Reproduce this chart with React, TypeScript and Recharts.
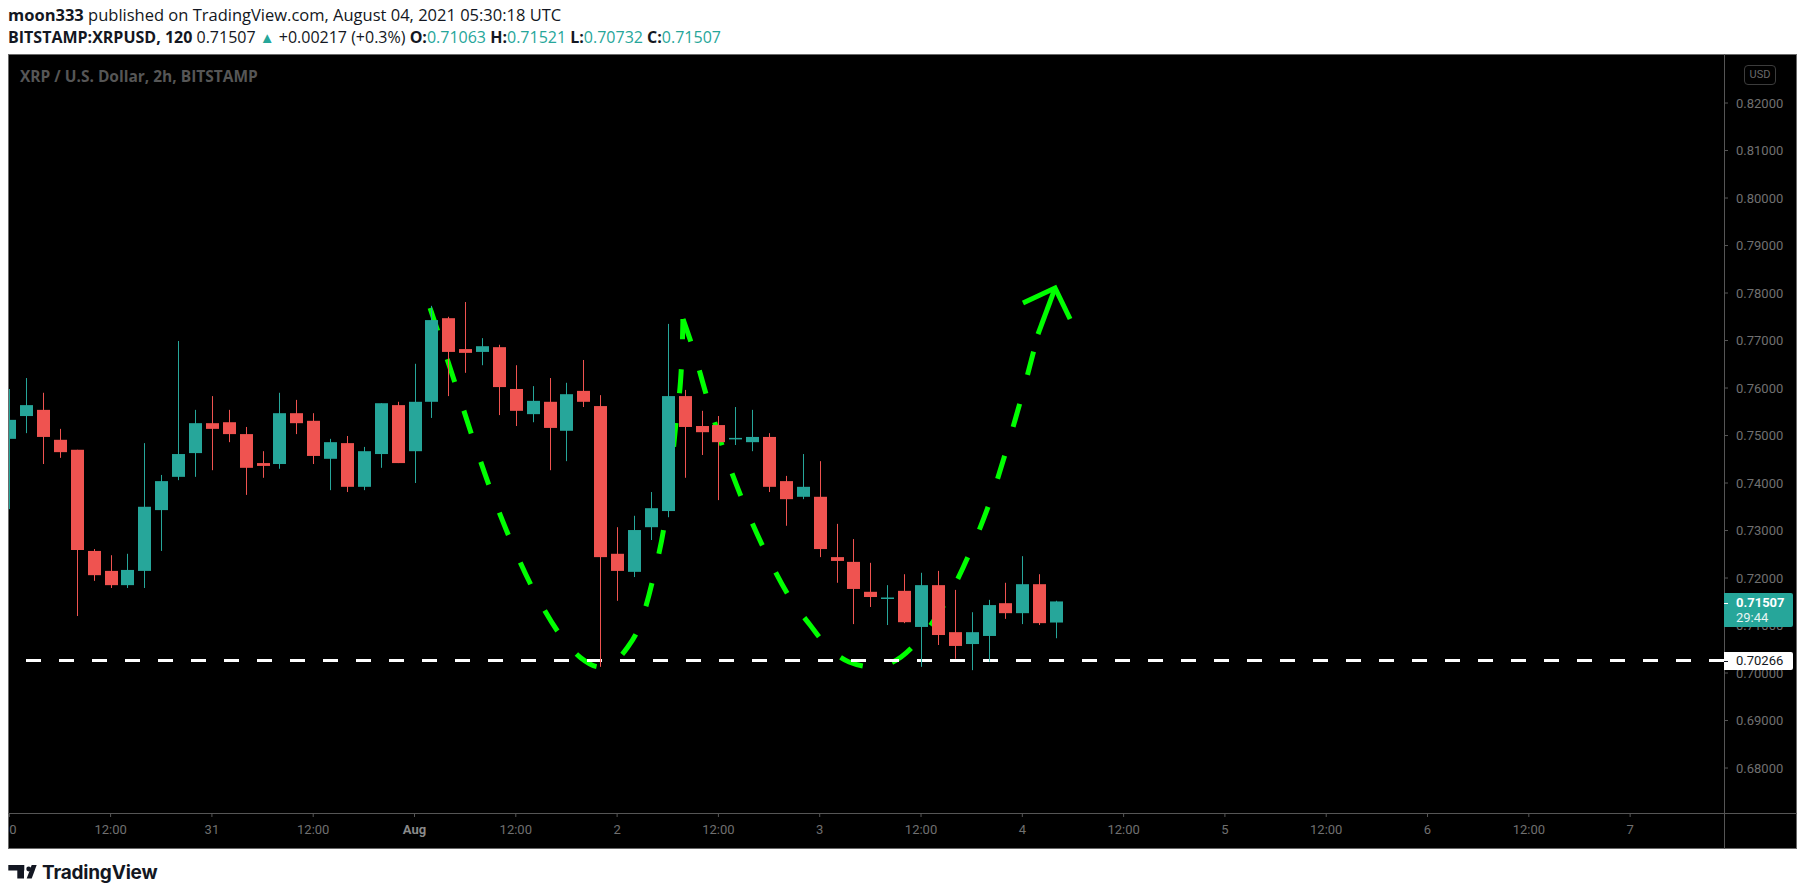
import React from 'react';
import { ComposedChart, Bar, Line, XAxis, YAxis, ReferenceLine } from 'recharts';

// ---- candle data (2h bars, Jul 30 00:00 -> Aug 4 04:00) ----
const opens = [
  0.7493, 0.7541, 0.7554, 0.7491, 0.7470, 0.7257, 0.7215, 0.7185, 0.7215, 0.7343,
  0.7413, 0.7463, 0.7526, 0.7528, 0.7503, 0.7442, 0.7440, 0.7547, 0.7531, 0.7451,
  0.7484, 0.7392, 0.7461, 0.7564, 0.7467, 0.7571, 0.7747, 0.7682, 0.7676, 0.7686,
  0.7598, 0.7545, 0.7571, 0.7510, 0.7594, 0.7562, 0.7251, 0.7213, 0.7307, 0.7341,
  0.7583, 0.7520, 0.7522, 0.7493, 0.7486, 0.7497, 0.7404, 0.7371, 0.7371, 0.7244,
  0.7234, 0.7171, 0.7157, 0.7173, 0.7097, 0.7185, 0.7086, 0.7061, 0.7078, 0.7147,
  0.7126, 0.7187, 0.71063,
];
const highs = [
  0.7598, 0.7621, 0.7590, 0.7514, 0.7470, 0.7261, 0.7248, 0.7251, 0.7484, 0.7417,
  0.7699, 0.7554, 0.7583, 0.7554, 0.7518, 0.7467, 0.7590, 0.7575, 0.7547, 0.7493,
  0.7499, 0.7476, 0.7568, 0.7571, 0.7651, 0.7773, 0.7750, 0.7781, 0.7705, 0.7691,
  0.7648, 0.7604, 0.7621, 0.7611, 0.7659, 0.7585, 0.7307, 0.7331, 0.7381, 0.7735,
  0.7596, 0.7552, 0.7541, 0.7560, 0.7554, 0.7505, 0.7415, 0.7461, 0.7446, 0.7314,
  0.7282, 0.7232, 0.7185, 0.7208, 0.7211, 0.7215, 0.7175, 0.7128, 0.7154, 0.7190,
  0.7246, 0.7208, 0.71521,
];
const lows = [
  0.7345, 0.7505, 0.7440, 0.7453, 0.7120, 0.7194, 0.7179, 0.7179, 0.7179, 0.7257,
  0.7406, 0.7413, 0.7427, 0.7486, 0.7375, 0.7411, 0.7430, 0.7503, 0.7440, 0.7385,
  0.7381, 0.7385, 0.7432, 0.7442, 0.7400, 0.7537, 0.7583, 0.7632, 0.7648, 0.7543,
  0.7520, 0.7528, 0.7427, 0.7446, 0.7560, 0.7013, 0.7152, 0.7202, 0.7280, 0.7328,
  0.7411, 0.7459, 0.7364, 0.7480, 0.7467, 0.7381, 0.7310, 0.7366, 0.7244, 0.7190,
  0.7103, 0.7139, 0.7101, 0.7105, 0.7013, 0.7059, 0.7030, 0.7006, 0.7024, 0.7114,
  0.7103, 0.7101, 0.70732,
];
const closes = [
  0.7533, 0.7564, 0.7497, 0.7465, 0.7259, 0.7206, 0.7185, 0.7217, 0.7350, 0.7404,
  0.7461, 0.7526, 0.7514, 0.7503, 0.7432, 0.7436, 0.7547, 0.7526, 0.7457, 0.7486,
  0.7392, 0.7467, 0.7568, 0.7442, 0.7571, 0.7743, 0.7676, 0.7674, 0.7688, 0.7602,
  0.7552, 0.7573, 0.7516, 0.7587, 0.7571, 0.7244, 0.7215, 0.7301, 0.7347, 0.7583,
  0.7518, 0.7507, 0.7486, 0.7495, 0.7497, 0.7392, 0.7366, 0.7392, 0.7261, 0.7236,
  0.7177, 0.7160, 0.7159, 0.7107, 0.7185, 0.7080, 0.7057, 0.7086, 0.7143, 0.7126,
  0.7187, 0.7105, 0.71507,
];

// ---- axis ticks ----
const xTickValues = [0, 6, 12, 18, 24, 30, 36, 42, 48, 54, 60, 66, 72, 78, 84, 90, 96];
const xTickLabels = ['30', '12:00', '31', '12:00', 'Aug', '12:00', '2', '12:00', '3', '12:00', '4', '12:00', '5', '12:00', '6', '12:00', '7'];
const yTicks = [0.68, 0.69, 0.70, 0.71, 0.72, 0.73, 0.74, 0.75, 0.76, 0.77, 0.78, 0.79, 0.80, 0.81, 0.82];

// ---- hand drawn curves (bar index, price) ----
const curve1Bars = [24.92, 26.4, 27.41, 28.47, 29.66, 31.02, 32.68, 33.86, 34.99, 36.59, 37.3, 38.19, 38.84, 39.49, 39.84, 39.9];
const curve1Prices = [0.77684, 0.76105, 0.74989, 0.73895, 0.72821, 0.71768, 0.70779, 0.70316, 0.70126, 0.70526, 0.70968, 0.72084, 0.73221, 0.75284, 0.76674, 0.77453];
const curve2Bars = [39.9, 40.43, 41.32, 42.33, 43.52, 44.82, 46.36, 47.43, 48.26, 49.74, 51.2, 52.82, 53.88, 55.72, 57.08, 58.26, 59.21, 60.1, 60.93];
const curve2Prices = [0.77453, 0.76905, 0.75811, 0.74674, 0.7356, 0.72526, 0.71516, 0.71011, 0.70632, 0.70232, 0.70126, 0.70337, 0.70695, 0.71663, 0.72695, 0.73789, 0.74884, 0.76, 0.77137];
const shaftBars = [60.93, 61.94];
const shaftPrices = [0.77137, 0.78105];
const headBars = [60.04, 61.94, 62.83];
const headPrices = [0.77789, 0.78105, 0.77453];

const supportLevel = 0.70266;
const lastPrice = '0.71507';
const countdown = '29:44';

const UP = '#26a69a';
const DOWN = '#ef5350';
const GREEN = '#00ff00';
const AXIS_TEXT = '#707070';
const LINE_GRAY = '#555555';
const BODY_W = 13;

const candles = opens.map((o, i) => ({ t: i, o, h: highs[i], l: lows[i], c: closes[i], range: [lows[i], highs[i]] }));
const toPts = (ts: number[], vs: number[]) => ts.map((t, i) => ({ t, v: vs[i] }));

const Candle = (props: any) => {
  const { x, y, width, height, payload } = props;
  if (!payload) return null;
  const { o, h, l, c } = payload;
  const color = c >= o ? UP : DOWN;
  const k = height / (h - l);
  const top = y + (h - Math.max(o, c)) * k;
  const bot = y + (h - Math.min(o, c)) * k;
  const cx = Math.round(x + (width || 0) / 2) + 0.5;
  return (
    <g>
      <line x1={cx} x2={cx} y1={y} y2={y + height} stroke={color} strokeWidth={1} />
      <rect x={cx - BODY_W / 2} y={top} width={BODY_W} height={Math.max(1.5, bot - top)} fill={color} />
    </g>
  );
};

const XTick = (props: any) => {
  const { x, y, payload } = props;
  const idx = xTickValues.indexOf(payload.value);
  const label = idx >= 0 ? xTickLabels[idx] : '';
  const bold = label === 'Aug';
  return (
    <text x={x} y={y} dy="0.71em" textAnchor="middle" fill={bold ? '#8a8a8a' : AXIS_TEXT}
      fontSize={13} fontFamily="Roboto" fontWeight={bold ? 700 : 400}>{label}</text>
  );
};

const hLine = (left: number, top: number, width: number, color: string) => (
  <div style={{ position: 'absolute', left, top, width, height: 1, background: color }} />
);
const vLine = (left: number, top: number, height: number, color: string) => (
  <div style={{ position: 'absolute', left, top, width: 1, height, background: color }} />
);

export default function App() {
  const teal = UP;
  const lineZ: any = { zIndex: 350 };
  const barZ: any = { zIndex: 700 };
  return (
    <div style={{ position: 'relative', width: 1789, height: 887, fontFamily: '"Open Sans", sans-serif', color: '#131722' }}>
      <div style={{ position: 'absolute', left: 0, top: -2, lineHeight: '18px', fontSize: 16.5, whiteSpace: 'nowrap' }}>
        <span style={{ fontWeight: 700 }}>moon333</span> published on TradingView.com, August 04, 2021 05:30:18 UTC
      </div>
      <div style={{ position: 'absolute', left: 0, top: 20, lineHeight: '18px', fontSize: 16, whiteSpace: 'nowrap' }}>
        <span style={{ fontWeight: 700 }}>BITSTAMP:XRPUSD, 120</span> 0.71507 <span style={{ color: teal, fontSize: 15 }}>▲</span> +0.00217 (+0.3%){' '}
        <span style={{ fontWeight: 700 }}>O:</span><span style={{ color: teal }}>0.71063</span>{' '}
        <span style={{ fontWeight: 700 }}>H:</span><span style={{ color: teal }}>0.71521</span>{' '}
        <span style={{ fontWeight: 700 }}>L:</span><span style={{ color: teal }}>0.70732</span>{' '}
        <span style={{ fontWeight: 700 }}>C:</span><span style={{ color: teal }}>0.71507</span>
      </div>

      <div style={{ position: 'absolute', left: 0, top: 46, width: 1789, height: 795, background: '#000' }}>
        <ComposedChart width={1789} height={795} data={candles} margin={{ top: 1, right: 1, bottom: 1, left: 1 }}>
          <XAxis dataKey="t" type="number" domain={[-0.018, 101.56]} allowDataOverflow ticks={xTickValues}
            interval={0} tick={<XTick />} tickLine={{ stroke: LINE_GRAY }} axisLine={false}
            tickSize={4} tickMargin={8} height={35} />
          <YAxis orientation="right" type="number" domain={[0.67053, 0.83011]} allowDataOverflow ticks={yTicks}
            interval={0} tickFormatter={(v: number) => v.toFixed(5)}
            tick={{ fill: AXIS_TEXT, fontSize: 13, fontFamily: 'Roboto' }} tickLine={{ stroke: LINE_GRAY }}
            axisLine={false} tickSize={4} tickMargin={8} width={72} />
          <ReferenceLine y={supportLevel} stroke="#ffffff" strokeWidth={3} strokeDasharray="15 18" />
          <Line {...lineZ} data={toPts(curve1Bars, curve1Prices)} dataKey="v" type="monotone" stroke={GREEN} strokeWidth={5}
            strokeDasharray="24 30" dot={false} activeDot={false} isAnimationActive={false} />
          <Line {...lineZ} data={toPts(curve2Bars, curve2Prices)} dataKey="v" type="monotone" stroke={GREEN} strokeWidth={5}
            strokeDasharray="24 30" dot={false} activeDot={false} isAnimationActive={false} />
          <Line {...lineZ} data={toPts(shaftBars, shaftPrices)} dataKey="v" type="linear" stroke={GREEN} strokeWidth={5}
            dot={false} activeDot={false} isAnimationActive={false} />
          <Line {...lineZ} data={toPts(headBars, headPrices)} dataKey="v" type="linear" stroke={GREEN} strokeWidth={5}
            strokeLinejoin="miter" dot={false} activeDot={false} isAnimationActive={false} />
          <Bar {...barZ} dataKey="range" barSize={BODY_W} shape={<Candle />} isAnimationActive={false} />
        </ComposedChart>
      </div>

      {/* frame lines */}
      {hLine(0, 46, 1789, '#6a6a6a')}
      {hLine(0, 840, 1789, '#6a6a6a')}
      {vLine(0, 46, 795, '#6a6a6a')}
      {vLine(1788, 46, 795, '#6a6a6a')}
      {vLine(1716, 46, 795, LINE_GRAY)}
      {hLine(0, 805, 1789, LINE_GRAY)}

      <div style={{ position: 'absolute', left: 12, top: 60, lineHeight: '16px', fontSize: 15.5, fontWeight: 700, color: '#565656', whiteSpace: 'nowrap' }}>
        XRP / U.S. Dollar, 2h, BITSTAMP
      </div>

      <div style={{ position: 'absolute', left: 1736, top: 57, width: 30, height: 18, border: '1px solid #3c3c3c', borderRadius: 4,
        color: '#6a6a6a', fontFamily: 'Roboto', fontSize: 11, lineHeight: '18px', textAlign: 'center' }}>USD</div>

      <div style={{ position: 'absolute', left: 1716, top: 585, width: 69, height: 34, background: teal, borderRadius: '0 2px 2px 0',
        color: '#fff', fontFamily: 'Roboto', fontSize: 13 }}>
        <div style={{ position: 'absolute', left: 0, top: 10, width: 4, height: 1, background: '#fff' }} />
        <div style={{ position: 'absolute', left: 12, top: 2, lineHeight: '16px', fontWeight: 700 }}>{lastPrice}</div>
        <div style={{ position: 'absolute', left: 12, top: 17, lineHeight: '16px', color: '#e6f4f2' }}>{countdown}</div>
      </div>
      <div style={{ position: 'absolute', left: 1716, top: 644, width: 69, height: 18, background: '#fff', borderRadius: '0 2px 2px 0',
        color: '#131722', fontFamily: 'Roboto', fontSize: 13 }}>
        <div style={{ position: 'absolute', left: 0, top: 9, width: 4, height: 1, background: '#131722' }} />
        <div style={{ position: 'absolute', left: 12, top: 1, lineHeight: '16px' }}>{supportLevel.toFixed(5)}</div>
      </div>

      <div style={{ position: 'absolute', left: 0, top: 855, height: 18, display: 'flex', alignItems: 'center' }}>
        <svg width={30} height={16} viewBox="0 0 30 16">
          <rect x={0.3} y={1} width={16} height={5.5} fill="#131722" />
          <rect x={9.3} y={1} width={6.7} height={13.5} fill="#131722" />
          <circle cx={20.7} cy={5} r={2.4} fill="#131722" />
          <polygon points="23.7,1 28.7,1 23.7,14.5 18.7,14.5" fill="#131722" />
        </svg>
        <span style={{ marginLeft: 4, fontFamily: 'Inter', fontWeight: 700, fontSize: 19, color: '#131722', letterSpacing: -0.2 }}>TradingView</span>
      </div>
    </div>
  );
}
